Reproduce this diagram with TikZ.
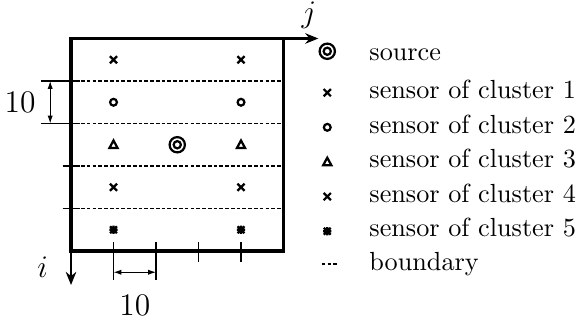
\documentclass[tikz,border=0pt]{standalone}
\usetikzlibrary{arrows.meta}
% sensor markers, centred at (#1,#2)
\newcommand{\crossmk}[2]{\draw[mk,shift={(#1,#2)}] (-.085,-.085)--(.085,.085) (-.085,.085)--(.085,-.085);}
\newcommand{\ringmk}[2]{\draw[mk] (#1,#2) circle (.08);}
\newcommand{\trimk}[2]{\draw[mk,line join=miter,shift={(#1,#2)}] (-.095,-.075)--(.095,-.075)--(0,.1)--cycle;}
\newcommand{\starmk}[2]{\draw[mk,shift={(#1,#2)}] (-.08,-.08)--(.08,.08) (-.08,.08)--(.08,-.08) (-.095,0)--(.095,0) (0,-.095)--(0,.095);}
\newcommand{\srcmk}[2]{\draw[line width=0.85pt] (#1,#2) circle (.18) (#1,#2) circle (.085);}

\begin{document}
\begin{tikzpicture}[scale=0.57,
  mk/.style={line width=0.85pt},
  bnd/.style={line width=0.75pt,dash pattern=on 1.4pt off 0.8pt},
  axis/.style={line width=0.8pt,-{Stealth[length=5pt,width=4pt]}},
  dim/.style={line width=0.4pt,{Latex[length=3pt,width=2pt]}-{Latex[length=3pt,width=2pt]}}]
\useasboundingbox (-1.671,-1.671) rectangle (12.024,5.906);
%\draw[help lines] (-1,-1) grid (12,6);
% cluster boundaries
\foreach \y in {1,...,4} \draw[bnd] (0.1,\y)--(4.95,\y);
% ticks on the left and bottom
\draw[line width=0.75pt] (-0.71,4)--(0.2,4) (-0.71,3)--(0.2,3) (-0.2,2)--(0.2,2) (-0.2,1)--(0.2,1);
\draw[line width=0.75pt] (1,0.2)--(1,-0.68) (2,0.2)--(2,-0.68) (3,0.2)--(3,-0.26) (4,0.2)--(4,-0.26);
% field
\draw[line width=1.2pt] (0,0) coordinate (O) rectangle (5,5) coordinate (TR);
\coordinate (iend) at (0,-0.8);
\coordinate (jend) at (5.82,5);
\draw[axis] (O)--(iend);
\draw[axis] (TR)--(jend);
\node[font=\large] (ilab) at (-0.67,-0.37) {$i$};
\node[font=\large] (jlab) at (5.6,5.55) {$j$};
% spacing 10
\coordinate (v1) at (-0.49,3); \coordinate (v2) at (-0.49,4);
\draw[dim] (v1)--(v2);
\node[font=\large] (vlab) at (-1.2,3.5) {10};
\coordinate (h1) at (1,-0.5); \coordinate (h2) at (2,-0.5);
\draw[dim] (h1)--(h2);
\node[font=\large] (hlab) at (1.5,-1.27) {10};
% sensors and source
\foreach \x in {1,4}{
  \crossmk{\x}{4.5}
  \ringmk{\x}{3.5}
  \trimk{\x}{2.5}
  \crossmk{\x}{1.5}
  \starmk{\x}{0.5}
}
\srcmk{2.5}{2.5}
% legend
\srcmk{6.03}{4.7}
\node[anchor=base west,inner sep=0pt] (leg0) at (7.01,4.49) {source};
\foreach \mk [count=\r] in {\crossmk,\ringmk,\trimk,\crossmk,\starmk}{
  \pgfmathsetmacro\yy{4.54-0.815*\r}
  \mk{6.03}{\yy}
  \node[anchor=base west,inner sep=0pt] (leg\r) at (7.01,\yy-0.135) {sensor of cluster \r};
}
\draw[bnd] (5.9,-0.31)--(6.25,-0.31);
\node[anchor=base west,inner sep=0pt] (leg6) at (7.01,-0.45) {boundary};
\end{tikzpicture}
\end{document}
